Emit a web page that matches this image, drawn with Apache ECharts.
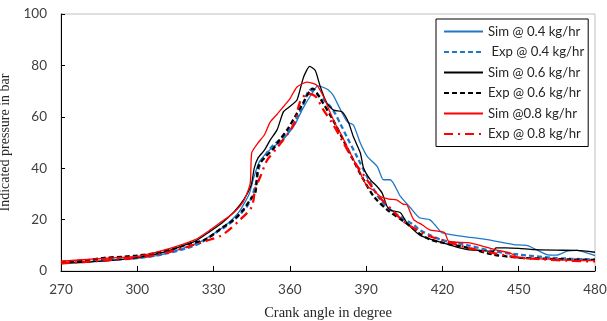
<!DOCTYPE html>
<html>
<head>
<meta charset="utf-8">
<script src="https://cdn.jsdelivr.net/npm/echarts@6/dist/echarts.min.js"></script>
<style>
html,body{margin:0;padding:0;background:#fff;}
#c{width:607px;height:321px;}
</style>
</head>
<body>
<div id="c"></div>
<script>
// ---- data ----
const xTicks = [270, 300, 330, 360, 390, 420, 450, 480];
const yTicks = [0, 20, 40, 60, 80, 100];
const seriesNames = ['Sim @ 0.4 kg/hr', ' Exp @ 0.4 kg/hr', 'Sim @ 0.6 kg/hr', 'Exp @ 0.6 kg/hr', 'Sim @0.8 kg/hr', 'Exp @ 0.8 kg/hr'];

const sim04X = [270,280,290,300,310,320,325,330,335,340,344,346,348,350,353,356,359,362,365,368,371,373,375,377,380,382.6,385,387.7,390.5,394.4,396.8,399.5,403.5,407.4,411,415,417,420,428,437.7,448,453.5,461,465,469,473,477,480];
const sim04Y = [3.3,3.6,4.2,5.0,6.5,9.5,11.5,14.5,18,23,30,37,42.5,45,48,50,53,57,63,68,72,71.5,70.5,68.4,62.6,58,56.8,49.8,44.5,40.6,35.5,35.5,29,24.6,20.7,20,18,14.8,13.5,12.2,10.3,9.9,6.4,6.2,7.7,8,7,6];

const exp04X = [270,280,290,300,310,320,325,331,335,339,343.6,346.4,348.4,351,353.5,356,359,362,365,368,371,374,377,380,382.5,386.4,390.4,395.6,402,408.7,411,415,420,430,440,450,462.5,470,480];
const exp04Y = [3.3,3.9,4.4,5.0,6.5,9.0,11,15,17.5,20.7,25.8,33,42,46,49,51,53.7,58,64,70.5,68.5,66,62.6,57,52,44.5,36.7,27.7,22,18,16,14,12,10,7.7,6.4,5.2,4.8,4.5];

const sim06X = [270,280,290,300,310,317,322.8,328,333.3,338,342,344.8,346,347.5,350,352.3,355,357.5,360,362.8,365.4,367.8,370,372,374.6,377.2,380.5,383,385,387.7,389,391.7,394.3,396.3,398.3,400,403.5,406,411,415,420,425,430,435,440,441,445,450,456,465,473,480];
const sim06Y = [2.9,3.4,4.1,5.2,7.2,9.5,11.6,15,18.7,23,28,33.5,40,44,47,51,55,62,64,66.5,75.5,79.6,78,71.6,65.2,62.6,62,58,52.2,46,40,35.5,32.9,30.3,25,23.5,22.7,18.8,14,12.5,11,9.5,8.3,8,7.6,9,9,8.8,8.3,8.1,8,7.3];

const exp06X = [270,280,287,295,300,307,315,320,326.7,333.3,338,341.7,344.4,346.4,347.6,350,353,356,359,362,365,369,372,377,381,385,389,393,398.3,404.8,408.6,411,415,420,430,440,450,460,470,480];
const exp06Y = [3.5,4.2,5.1,5.6,6.0,7.0,8.8,10.5,12.2,16.8,20,23.8,27.7,30.4,40.6,44,47,51,55,60,65,71,67,58.7,51,43,35.5,29,23.8,19.3,16.5,14.5,12.3,11,9,6.4,5.2,4.8,4.5,4.3];

const sim08X = [270,283.4,299.8,306,313.6,322.8,328,333.3,337.7,341.7,344.4,345,347.6,350,352.3,355,357.5,360,362.8,366.7,370.6,373.3,376,378.5,380,383.8,387.7,390.4,392.9,395.6,399,402,404.5,406,408.7,412,415,420.8,422.5,430,436,441,446.7,450,462.5,470,480];
const sim08Y = [3.8,4.7,5.7,7,9,12.2,15.5,19.3,22.5,27,34,46,50,53,58,61,64,67,71.6,73.5,72.3,67.7,61.3,56,53.5,45.8,38,32.9,31.4,29,28,27.7,26,25.8,20,18,16,15,11.5,11,9.6,8.2,7,5.2,4.6,4.2,4];

const exp08X = [270,280,290,300,307,313.6,320,326.7,333.3,340.5,345,346.4,348.4,351,355,359.4,362,364,367,370,373,377,381,385,390,395,400,405,410,415,420,430,440,450,460,470,480];
const exp08Y = [3.0,3.6,4.3,5.2,6.2,7.7,9.5,11.6,14,20,25,32,36.7,43,48,53.7,58,65.8,69,68,63,57,50,43,36,29,24,19,16,13.5,12,9,7,5.2,4.5,4,3.7];

function pairs(xs, ys){ return xs.map((x,i)=>[x, ys[i]]); }

const BLUE = '#1f77c9', BLACK = '#000000', RED = '#ff0000';
const TICKFONT = 'Lato';

const chart = echarts.init(document.getElementById('c'), null, {renderer:'canvas'});
chart.setOption({
  animation: false,
  backgroundColor: '#ffffff',
  grid: {left: 61, right: 12, top: 14, bottom: 50,
    outerBounds: {left: -200, right: -200, top: -200, bottom: -200},
    show: true, borderColor: '#bfbfbf', borderWidth: 1, backgroundColor: 'transparent'},
  legend: {
    orient: 'vertical', left: 436, top: 19,
    padding: [6, 4, 6, 7], itemGap: 7.5, itemWidth: 39, itemHeight: 14,
    backgroundColor: '#fff', borderColor: '#000', borderWidth: 1,
    itemStyle: {opacity: 0},
    textStyle: {fontFamily: TICKFONT, fontSize: 13.2, color: '#262626'},
    data: seriesNames
  },
  xAxis: {
    type: 'value', min: 270, max: 480, interval: 30,
    name: 'Crank angle in degree', nameLocation: 'middle', nameGap: 35,
    nameTextStyle: {fontFamily: 'Liberation Serif', fontSize: 14.5, color: '#262626'},
    axisLine: {show: true, lineStyle: {color: '#000', width: 1}},
    axisTick: {show: true, inside: true, length: 5, lineStyle: {color: '#000'}},
    axisLabel: {fontFamily: TICKFONT, fontSize: 13.5, color: '#404040', margin: 12,
      formatter: v => xTicks.includes(v) ? String(v) : ''},
    splitLine: {show: false}
  },
  yAxis: {
    type: 'value', min: 0, max: 100, interval: 20,
    name: 'Indicated pressure in bar', nameLocation: 'middle', nameGap: 41,
    nameTextStyle: {fontFamily: 'Liberation Serif', fontSize: 14, color: '#262626'},
    axisLine: {show: true, lineStyle: {color: '#000', width: 1}},
    axisTick: {show: true, inside: true, length: 4, lineStyle: {color: '#000'}},
    axisLabel: {fontFamily: TICKFONT, fontSize: 13.5, color: '#404040', margin: 14,
      formatter: v => yTicks.includes(v) ? String(v) : ''},
    splitLine: {show: false}
  },
  series: [
    {name: seriesNames[0], type: 'line', data: pairs(sim04X, sim04Y), symbol: 'none', smooth: 0.2,
      lineStyle: {color: BLUE, width: 1.3}, itemStyle: {color: BLUE}, z: 2},
    {name: seriesNames[1], type: 'line', data: pairs(exp04X, exp04Y), symbol: 'none', smooth: 0.3,
      lineStyle: {color: BLUE, width: 2.3, type: [5, 3]}, itemStyle: {color: BLUE}, z: 3},
    {name: seriesNames[2], type: 'line', data: pairs(sim06X, sim06Y), symbol: 'none', smooth: 0.2,
      lineStyle: {color: BLACK, width: 1.3}, itemStyle: {color: BLACK}, z: 4},
    {name: seriesNames[3], type: 'line', data: pairs(exp06X, exp06Y), symbol: 'none', smooth: 0.3,
      lineStyle: {color: BLACK, width: 2.3, type: [5, 3]}, itemStyle: {color: BLACK}, z: 5},
    {name: seriesNames[4], type: 'line', data: pairs(sim08X, sim08Y), symbol: 'none', smooth: 0.2,
      lineStyle: {color: RED, width: 1.3}, itemStyle: {color: RED}, z: 6},
    {name: seriesNames[5], type: 'line', data: pairs(exp08X, exp08Y), symbol: 'none', smooth: 0.3,
      lineStyle: {color: RED, width: 2.3, type: [9, 5, 2, 5]}, itemStyle: {color: RED}, z: 7}
  ]
});
</script>
</body>
</html>
